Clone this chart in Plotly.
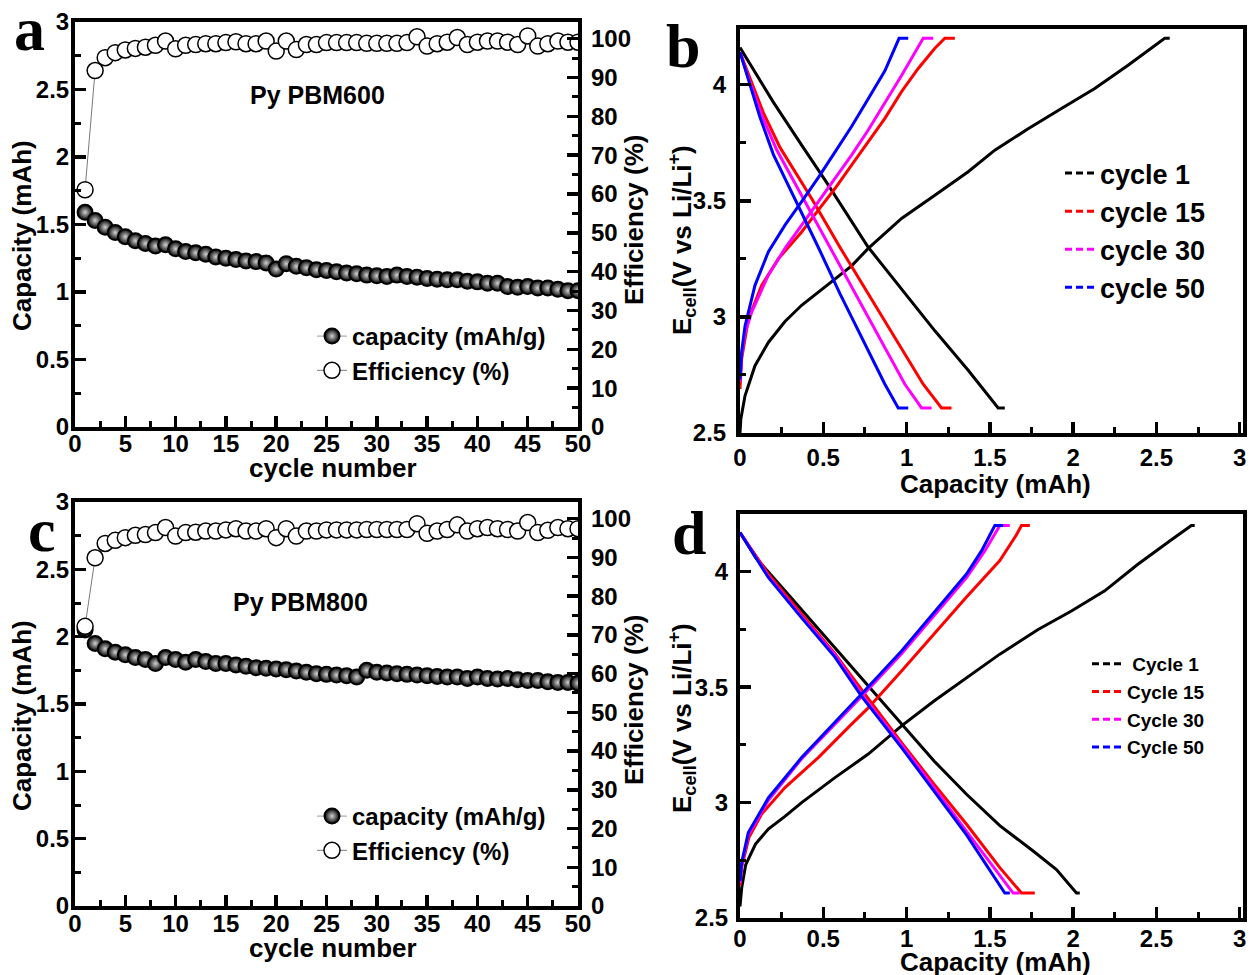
import plotly.graph_objects as go

W, H = 1251, 975
FONT = "Liberation Sans, Arial, Helvetica, sans-serif"
SERIF = "Liberation Serif, Times New Roman, serif"

# ---------------- data ----------------
cycles = list(range(1, 51))
cap_a = [1.59, 1.53, 1.48, 1.44, 1.41, 1.38, 1.36, 1.34, 1.35, 1.32,
         1.30, 1.29, 1.28, 1.26, 1.25, 1.24, 1.23, 1.225, 1.215, 1.17,
         1.21, 1.19, 1.18, 1.165, 1.16, 1.15, 1.14, 1.135, 1.125, 1.12,
         1.115, 1.125, 1.115, 1.11, 1.10, 1.095, 1.09, 1.09, 1.08, 1.075,
         1.065, 1.065, 1.04, 1.035, 1.04, 1.03, 1.03, 1.02, 1.01, 1.01]
eff_a = [61.1, 91.8, 95.1, 96.4, 97.1, 97.5, 97.8, 98.3, 99.4, 97.4,
         98.3, 98.5, 98.7, 98.7, 99.0, 99.2, 98.7, 98.7, 99.4, 96.8,
         99.4, 97.2, 98.5, 98.5, 99.0, 99.0, 99.0, 99.0, 98.8, 98.8,
         98.8, 98.8, 99.0, 100.5, 98.1, 98.7, 99.1, 100.3, 98.5, 99.1,
         99.4, 99.4, 99.1, 98.5, 100.7, 98.1, 98.7, 99.4, 99.1, 99.1]
cap_c = [2.05, 1.95, 1.91, 1.885, 1.865, 1.845, 1.83, 1.80, 1.845, 1.83,
         1.81, 1.83, 1.815, 1.80, 1.80, 1.79, 1.78, 1.77, 1.765, 1.76,
         1.755, 1.745, 1.735, 1.725, 1.72, 1.715, 1.71, 1.70, 1.75, 1.735,
         1.73, 1.725, 1.72, 1.715, 1.71, 1.705, 1.70, 1.70, 1.69, 1.70,
         1.69, 1.685, 1.69, 1.68, 1.675, 1.675, 1.665, 1.66, 1.66, 1.655]
eff_c = [72.2, 89.9, 93.6, 94.4, 95.1, 95.7, 95.9, 96.4, 97.7, 95.5,
         96.4, 96.5, 96.8, 96.8, 97.1, 97.4, 96.8, 96.8, 97.4, 95.1,
         97.4, 95.5, 96.8, 96.8, 97.1, 97.1, 97.1, 97.1, 97.2, 97.2,
         97.2, 97.2, 97.2, 98.7, 96.2, 96.8, 97.2, 98.4, 96.8, 97.4,
         97.7, 97.4, 97.2, 96.8, 99.0, 96.4, 97.0, 97.7, 97.4, 97.4]

# panel b : charge / discharge profiles (capacity mAh, voltage V)
b_c1_chg_q = [0.0, 0.005, 0.03, 0.09, 0.17, 0.27, 0.37, 0.57, 0.67, 0.77, 0.97, 1.17, 1.37, 1.53, 1.73, 1.93, 2.13, 2.33, 2.55, 2.58]
b_c1_chg_v = [2.50, 2.56, 2.66, 2.79, 2.89, 2.98, 3.05, 3.165, 3.22, 3.295, 3.424, 3.524, 3.625, 3.718, 3.81, 3.898, 3.984, 4.084, 4.20, 4.20]
b_c1_dis_q = [0.0, 0.1, 0.2, 0.37, 0.51, 0.77, 0.97, 1.17, 1.37, 1.55, 1.59]
b_c1_dis_v = [4.16, 4.04, 3.925, 3.74, 3.59, 3.30, 3.12, 2.94, 2.77, 2.608, 2.608]

b_c15_chg_q = [0.0, 0.01, 0.05, 0.13, 0.23, 0.37, 0.47, 0.57, 0.67, 0.77, 0.87, 0.97, 1.07, 1.17, 1.23, 1.29]
b_c15_chg_v = [2.69, 2.82, 2.99, 3.136, 3.25, 3.366, 3.46, 3.553, 3.654, 3.754, 3.855, 3.97, 4.07, 4.157, 4.20, 4.20]
b_c15_dis_q = [0.0, 0.06, 0.14, 0.24, 0.43, 0.60, 0.77, 0.97, 1.10, 1.21, 1.27]
b_c15_dis_v = [4.14, 4.03, 3.88, 3.73, 3.51, 3.30, 3.10, 2.86, 2.71, 2.608, 2.608]

b_c30_chg_q = [0.0, 0.01, 0.03, 0.07, 0.17, 0.27, 0.37, 0.47, 0.57, 0.67, 0.77, 0.87, 0.97, 1.10, 1.16]
b_c30_chg_v = [2.72, 2.84, 2.93, 3.02, 3.18, 3.295, 3.395, 3.496, 3.596, 3.697, 3.805, 3.92, 4.04, 4.20, 4.20]
b_c30_dis_q = [0.0, 0.05, 0.13, 0.22, 0.38, 0.54, 0.69, 0.88, 0.99, 1.09, 1.15]
b_c30_dis_v = [4.14, 4.03, 3.87, 3.72, 3.51, 3.30, 3.10, 2.85, 2.71, 2.608, 2.608]

b_c50_chg_q = [0.0, 0.01, 0.03, 0.09, 0.17, 0.27, 0.37, 0.47, 0.57, 0.67, 0.77, 0.87, 0.955, 1.01]
b_c50_chg_v = [2.73, 2.85, 2.96, 3.136, 3.28, 3.395, 3.496, 3.60, 3.71, 3.82, 3.94, 4.06, 4.20, 4.20]
b_c50_dis_q = [0.0, 0.05, 0.12, 0.20, 0.33, 0.47, 0.60, 0.77, 0.87, 0.95, 1.01]
b_c50_dis_v = [4.14, 4.02, 3.86, 3.70, 3.51, 3.30, 3.10, 2.85, 2.71, 2.608, 2.608]

# panel d
d_c1_chg_q = [0.0, 0.01, 0.034, 0.093, 0.17, 0.27, 0.37, 0.57, 0.77, 0.97, 1.165, 1.36, 1.56, 1.79, 1.99, 2.19, 2.385, 2.58, 2.71, 2.73]
d_c1_chg_v = [2.55, 2.63, 2.73, 2.82, 2.885, 2.94, 3.0, 3.108, 3.21, 3.332, 3.44, 3.542, 3.643, 3.75, 3.83, 3.917, 4.03, 4.133, 4.20, 4.20]
d_c1_dis_q = [0.0, 0.093, 0.27, 0.57, 0.79, 0.97, 1.165, 1.36, 1.56, 1.76, 1.90, 2.02, 2.04]
d_c1_dis_v = [4.17, 4.062, 3.918, 3.672, 3.49, 3.34, 3.18, 3.036, 2.90, 2.79, 2.71, 2.608, 2.608]

d_c15_chg_q = [0.0, 0.01, 0.054, 0.13, 0.27, 0.47, 0.67, 0.77, 0.97, 1.165, 1.36, 1.56, 1.66, 1.69, 1.74]
d_c15_chg_v = [2.64, 2.72, 2.85, 2.95, 3.065, 3.195, 3.34, 3.41, 3.57, 3.73, 3.89, 4.048, 4.16, 4.20, 4.20]
d_c15_dis_q = [0.0, 0.17, 0.37, 0.57, 0.76, 0.97, 1.165, 1.36, 1.56, 1.69, 1.77]
d_c15_dis_v = [4.17, 3.99, 3.816, 3.645, 3.46, 3.26, 3.08, 2.906, 2.718, 2.608, 2.608]

d_c30_chg_q = [0.0, 0.01, 0.05, 0.17, 0.37, 0.57, 0.73, 0.97, 1.165, 1.36, 1.47, 1.56, 1.62]
d_c30_chg_v = [2.65, 2.73, 2.86, 3.01, 3.19, 3.34, 3.46, 3.645, 3.81, 3.975, 4.09, 4.20, 4.20]
d_c30_dis_q = [0.0, 0.17, 0.37, 0.57, 0.74, 0.97, 1.165, 1.36, 1.64, 1.68]
d_c30_dis_v = [4.17, 3.98, 3.805, 3.64, 3.46, 3.25, 3.065, 2.875, 2.608, 2.608]

d_c50_chg_q = [0.0, 0.01, 0.05, 0.17, 0.37, 0.57, 0.73, 0.97, 1.165, 1.36, 1.45, 1.53, 1.58]
d_c50_chg_v = [2.66, 2.74, 2.87, 3.02, 3.195, 3.347, 3.47, 3.657, 3.824, 3.99, 4.09, 4.20, 4.20]
d_c50_dis_q = [0.0, 0.17, 0.37, 0.57, 0.73, 0.97, 1.165, 1.36, 1.59, 1.62]
d_c50_dis_v = [4.17, 3.975, 3.80, 3.63, 3.46, 3.238, 3.05, 2.86, 2.608, 2.608]

cycle_colors = ["#000000", "#ff0000", "#ff00ff", "#0000ff"]
b_names = ["cycle 1", "cycle 15", "cycle 30", "cycle 50"]
d_names = ["\u00a0Cycle 1", "Cycle 15", "Cycle 30", "Cycle 50"]
b_curves = [(b_c1_chg_q, b_c1_chg_v, b_c1_dis_q, b_c1_dis_v),
            (b_c15_chg_q, b_c15_chg_v, b_c15_dis_q, b_c15_dis_v),
            (b_c30_chg_q, b_c30_chg_v, b_c30_dis_q, b_c30_dis_v),
            (b_c50_chg_q, b_c50_chg_v, b_c50_dis_q, b_c50_dis_v)]
d_curves = [(d_c1_chg_q, d_c1_chg_v, d_c1_dis_q, d_c1_dis_v),
            (d_c15_chg_q, d_c15_chg_v, d_c15_dis_q, d_c15_dis_v),
            (d_c30_chg_q, d_c30_chg_v, d_c30_dis_q, d_c30_dis_v),
            (d_c50_chg_q, d_c50_chg_v, d_c50_dis_q, d_c50_dis_v)]

# ---------------- helpers (window pixels -> paper fraction) ----------------
def px(x):
    return x / W

def py(y):
    return 1 - y / H

fig = go.Figure()

def cycling_panel(cap, eff, xa, ya, ya2, leg):
    fig.add_trace(go.Scatter(
        x=cycles, y=cap, xaxis=xa, yaxis=ya, mode="lines+markers",
        name="capacity (mAh/g)", legend=leg,
        line=dict(color="#9a9a9a", width=1),
        marker=dict(symbol="circle", size=15, color="#000000",
                    gradient=dict(type="radial", color="#d2d2d2"),
                    line=dict(color="#000000", width=2))))
    fig.add_trace(go.Scatter(
        x=cycles, y=eff, xaxis=xa, yaxis=ya2, mode="lines+markers",
        name="Efficiency (%)", legend=leg,
        line=dict(color="#7a7a7a", width=1),
        marker=dict(symbol="circle", size=16, color="#ffffff",
                    line=dict(color="#000000", width=1.5))))

cycling_panel(cap_a, eff_a, "x", "y", "y2", "legend")
cycling_panel(cap_c, eff_c, "x3", "y4", "y5", "legend3")

def profile_panel(curves, names, xa, ya, leg):
    for (cq, cv, dq, dv), col in zip(curves, cycle_colors):
        fig.add_trace(go.Scatter(x=cq, y=cv, xaxis=xa, yaxis=ya, mode="lines",
                                 line=dict(color=col, width=3), showlegend=False))
        fig.add_trace(go.Scatter(x=dq, y=dv, xaxis=xa, yaxis=ya, mode="lines",
                                 line=dict(color=col, width=3), showlegend=False))
    for col, nm in zip(cycle_colors, names):
        fig.add_trace(go.Scatter(x=[None], y=[None], xaxis=xa, yaxis=ya, mode="lines",
                                 name=nm, legend=leg,
                                 line=dict(color=col, width=3, dash="7px,4px")))

profile_panel(b_curves, b_names, "x2", "y3", "legend2")
profile_panel(d_curves, d_names, "x4", "y6", "legend4")

# ---------------- axes ----------------
tickfont = dict(family=FONT, size=24, color="black", weight="bold")

def frame_axis(domain, rng, dtick, minor_dtick, tick0=0, anchor=None, side=None,
               mirror=True, overlaying=None, showline=True, standoff=0):
    d = dict(range=rng, domain=domain, dtick=dtick, tick0=tick0, automargin=False,
             ticks="inside", ticklen=11, tickwidth=3.5, tickcolor="black",
             minor=dict(dtick=minor_dtick, tick0=tick0, ticks="inside", ticklen=6,
                        tickwidth=3, tickcolor="black"),
             showline=showline, linewidth=4, linecolor="black", mirror=mirror,
             showgrid=False, zeroline=False, tickfont=tickfont, fixedrange=True,
             ticklabelstandoff=standoff)
    if anchor:
        d["anchor"] = anchor
    if side:
        d["side"] = side
    if overlaying:
        d["overlaying"] = overlaying
    return d

xdomL = [px(75), px(578)]
xdomR = [px(740), px(1243)]
ydomA = [py(427), py(22)]
ydomB = [py(433), py(29)]
ydomC = [py(906), py(502)]
ydomD = [py(918), py(514)]

fig.update_layout(
    template="none",
    xaxis=frame_axis(xdomL, [0, 50], 5, 2.5, anchor="y", standoff=-8),
    yaxis=frame_axis(ydomA, [0, 3], 0.5, 0.25, anchor="x", standoff=-3),
    yaxis2=frame_axis(ydomA, [0, 104.3], 10, 5, anchor="x", side="right", mirror=False,
                      overlaying="y", showline=False, standoff=12),
    xaxis2=frame_axis(xdomR, [0, 3.02], 0.5, 0.25, anchor="y3", standoff=0),
    yaxis3=frame_axis(ydomB, [2.5, 4.24], 0.5, 0.25, tick0=2.5, anchor="x2", standoff=5),
    xaxis3=frame_axis(xdomL, [0, 50], 5, 2.5, anchor="y4", standoff=-7),
    yaxis4=frame_axis(ydomC, [0, 3], 0.5, 0.25, anchor="x3", standoff=-3),
    yaxis5=frame_axis(ydomC, [0, 104.3], 10, 5, anchor="x3", side="right", mirror=False,
                      overlaying="y4", showline=False, standoff=12),
    xaxis4=frame_axis(xdomR, [0, 3.02], 0.5, 0.25, anchor="y6", standoff=-4),
    yaxis6=frame_axis(ydomD, [2.5, 4.25], 0.5, 0.25, tick0=2.5, anchor="x4", standoff=3),
)

# ---------------- legends ----------------
def legend_cfg(x, y, size, itemwidth=30):
    return dict(x=px(x), y=py(y), xanchor="left", yanchor="top",
                bgcolor="rgba(0,0,0,0)", borderwidth=0, itemwidth=itemwidth,
                tracegroupgap=0, itemclick=False, itemdoubleclick=False,
                font=dict(family=FONT, size=size, color="black", weight="bold"))

fig.update_layout(
    legend=legend_cfg(312, 314, 24),
    legend2=legend_cfg(1060, 149, 27),
    legend3=legend_cfg(312, 794, 24),
    legend4=legend_cfg(1087, 645, 19),
)

# ---------------- annotations ----------------
def text(x, y, s, size=26, angle=0, family=FONT):
    fig.add_annotation(x=px(x), y=py(y), xref="paper", yref="paper", text=s,
                       showarrow=False, textangle=angle, xanchor="center", yanchor="middle",
                       font=dict(family=family, size=size, color="black", weight="bold"))

text(22, 236, "Capacity (mAh)", angle=-90)
text(333, 468, "cycle number")
text(634, 220, "Efficiency (%)", angle=-90)
text(317, 95, "Py PBM600", size=25)
text(22, 716, "Capacity (mAh)", angle=-90)
text(333, 948, "cycle number")
text(634, 700, "Efficiency (%)", angle=-90)
text(300, 602, "Py PBM800", size=25)

text(682, 240, "E<sub>cell</sub>(V vs Li/Li<sup>+</sup>)", angle=-90)
text(995, 484, "Capacity (mAh)")
text(682, 718, "E<sub>cell</sub>(V vs Li/Li<sup>+</sup>)", angle=-90)
text(995, 962, "Capacity (mAh)")

text(29, 29, "a", size=62, family=SERIF)
text(683, 46, "b", size=62, family=SERIF)
text(42, 530, "c", size=62, family=SERIF)
text(689, 533, "d", size=62, family=SERIF)

fig.update_layout(width=W, height=H, margin=dict(l=0, r=0, t=0, b=0),
                  paper_bgcolor="white", plot_bgcolor="white", showlegend=True,
                  hovermode=False)

# remove the browser's default 8 px body margin so the figure fills the window exactly
fig.write_html("out.html",
               config={"displayModeBar": False, "staticPlot": True},
               post_script="document.body.style.margin='0px';document.body.style.overflow='hidden';")
